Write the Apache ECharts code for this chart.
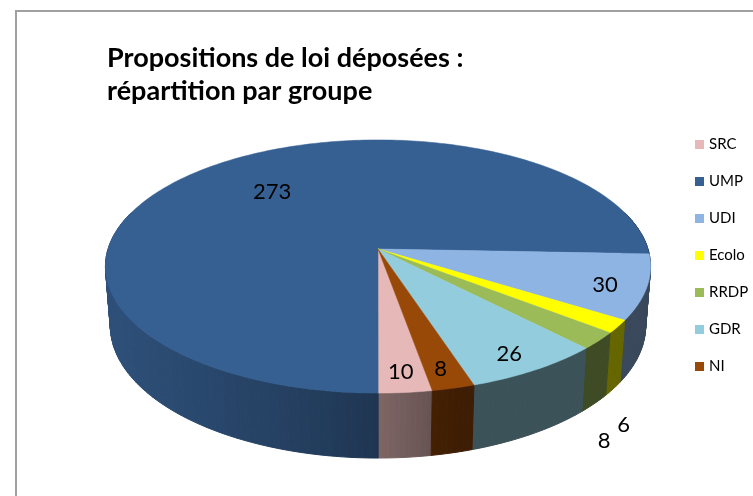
<!DOCTYPE html>
<html>
<head>
<meta charset="utf-8">
<script src="https://cdn.jsdelivr.net/npm/echarts@6/dist/echarts.min.js"></script>
<style>
  html, body { margin: 0; padding: 0; background: #fff; }
  #main { width: 753px; height: 496px; }
</style>
</head>
<body>
<div id="main"></div>
<script>
'use strict';

// données du graphique
var groupes = ['SRC', 'UMP', 'UDI', 'Ecolo', 'RRDP', 'GDR', 'NI'];
var propositions = [10, 273, 30, 6, 8, 26, 8];
var couleurs = ['#E6B9B8', '#376092', '#8EB4E3', '#FFFF00', '#9BBB59', '#93CDDD', '#984807'];

// vue 3D façon Excel : disque incliné vu en perspective
var CX = 378, CY = 249;          // centre du disque à l'écran
var FOCALE = 1733, DIST = 6.42;  // caméra
var SIN_A = 0.46, COS_A = 0.888; // inclinaison
var EPAISSEUR = 0.249;           // hauteur du disque (rayon = 1)
var ANGLE_DEPART = 10;           // angle de la première part (depuis l'avant)
var POLICE = 'Lato, "Open Sans", sans-serif';

var total = propositions.reduce(function (s, v) { return s + v; }, 0);
var degParUnite = 360 / total;

// cumul avant chaque part
var cumuls = [];
var acc = 0;
for (var i = 0; i < propositions.length; i++) {
  cumuls.push(acc);
  acc += propositions[i];
}

function projeter(r, a, y) {
  var rad = a * Math.PI / 180;
  var x = r * Math.sin(rad), z = r * Math.cos(rad);
  var prof = DIST - y * SIN_A - z * COS_A;
  return [CX + FOCALE * x / prof, CY - FOCALE * (y * COS_A - z * SIN_A) / prof];
}

function assombrir(hex, f) {
  var n = parseInt(hex.slice(1), 16);
  var r = Math.round(((n >> 16) & 255) * f);
  var g = Math.round(((n >> 8) & 255) * f);
  var b = Math.round((n & 255) * f);
  return 'rgb(' + r + ',' + g + ',' + b + ')';
}

// éclairage du bord : plus clair à gauche, sombre à droite
function ombre(a) {
  if (a < 0) {
    var t = Math.min(1, -a / 80);
    return 0.56 + 0.27 * (1 - (1 - t) * (1 - t));
  }
  return Math.max(0.40, 0.55 - a * 0.01);
}

function renderPart(params, api) {
  var idx = params.seriesIndex;
  var debut = api.value(0), valeur = api.value(1);
  var aHaut = ANGLE_DEPART - debut * degParUnite;
  var aBas = aHaut - valeur * degParUnite;
  var couleur = couleurs[idx];
  var enfants = [];

  // face supérieure
  var pts = [projeter(0, 0, 0)];
  var n = Math.max(2, Math.ceil(aHaut - aBas));
  for (var k = 0; k <= n; k++) {
    pts.push(projeter(1, aHaut - (aHaut - aBas) * k / n, 0));
  }
  enfants.push({
    type: 'polygon',
    shape: { points: pts },
    style: { fill: couleur, stroke: couleur, lineWidth: 0.5 },
    z2: 200
  });

  // bord extérieur, découpé en tranches pour l'ombrage
  for (var k2 = 0; k2 < n; k2++) {
    var a1 = aHaut - (aHaut - aBas) * k2 / n;
    var a2 = aHaut - (aHaut - aBas) * (k2 + 1) / n;
    var mid = (a1 + a2) / 2;
    var c = Math.cos(mid * Math.PI / 180);
    if (c < -0.3) continue;
    var m = ((mid % 360) + 540) % 360 - 180;
    var col = assombrir(couleur, ombre(m));
    enfants.push({
      type: 'polygon',
      shape: { points: [projeter(1, a1, 0), projeter(1, a2, 0), projeter(1, a2, -EPAISSEUR), projeter(1, a1, -EPAISSEUR)] },
      style: { fill: col, stroke: col, lineWidth: 1 },
      z2: 10 + Math.round((c + 1) * 50)
    });
  }

  // étiquette : dedans si la part est assez large, sinon sous le bord
  var milieu = (aHaut + aBas) / 2;
  var p1 = projeter(0.85, aHaut, 0), p2 = projeter(0.85, aBas, 0);
  var corde = Math.sqrt(Math.pow(p1[0] - p2[0], 2) + Math.pow(p1[1] - p2[1], 2));
  var pos;
  if (corde < 30) {
    pos = projeter(1.05, milieu, -0.38);
  } else if (valeur / total > 0.5) {
    pos = projeter(0.6, milieu, 0);
    pos[1] -= 6;
  } else {
    pos = projeter(0.85, milieu, 0);
    pos[1] += 4;
  }
  enfants.push({
    type: 'text',
    x: pos[0],
    y: pos[1],
    style: {
      text: String(valeur),
      fill: '#000',
      fontSize: 22,
      fontFamily: POLICE,
      align: 'center',
      verticalAlign: 'middle'
    },
    z2: 300
  });

  return { type: 'group', children: enfants };
}

var series = groupes.map(function (nom, i) {
  return {
    type: 'custom',
    name: nom,
    coordinateSystem: 'none',
    silent: true,
    itemStyle: { color: couleurs[i] },
    data: [[cumuls[i], propositions[i]]],
    renderItem: renderPart
  };
});

var chart = echarts.init(document.getElementById('main'), null, { renderer: 'canvas' });

var option = {
  backgroundColor: '#ffffff',
  animation: false,
  title: {
    text: 'Propositions de loi déposées :\nrépartition par groupe',
    left: 107,
    top: 42,
    padding: 0,
    textStyle: {
      fontFamily: POLICE,
      fontWeight: 'bold',
      fontSize: 27,
      lineHeight: 33,
      color: '#000'
    }
  },
  legend: {
    orient: 'vertical',
    left: 695,
    top: 137,
    padding: 0,
    icon: 'rect',
    itemWidth: 9,
    itemHeight: 9,
    itemGap: 22,
    selectedMode: false,
    textStyle: { fontFamily: POLICE, fontSize: 15, color: '#000' },
    data: groupes
  },
  graphic: [{
    type: 'rect',
    shape: { x: 16, y: 11, width: 900, height: 700 },
    style: { fill: 'none', stroke: '#a0a0a0', lineWidth: 2 },
    silent: true
  }],
  series: series
};

chart.setOption(option);
</script>
</body>
</html>
